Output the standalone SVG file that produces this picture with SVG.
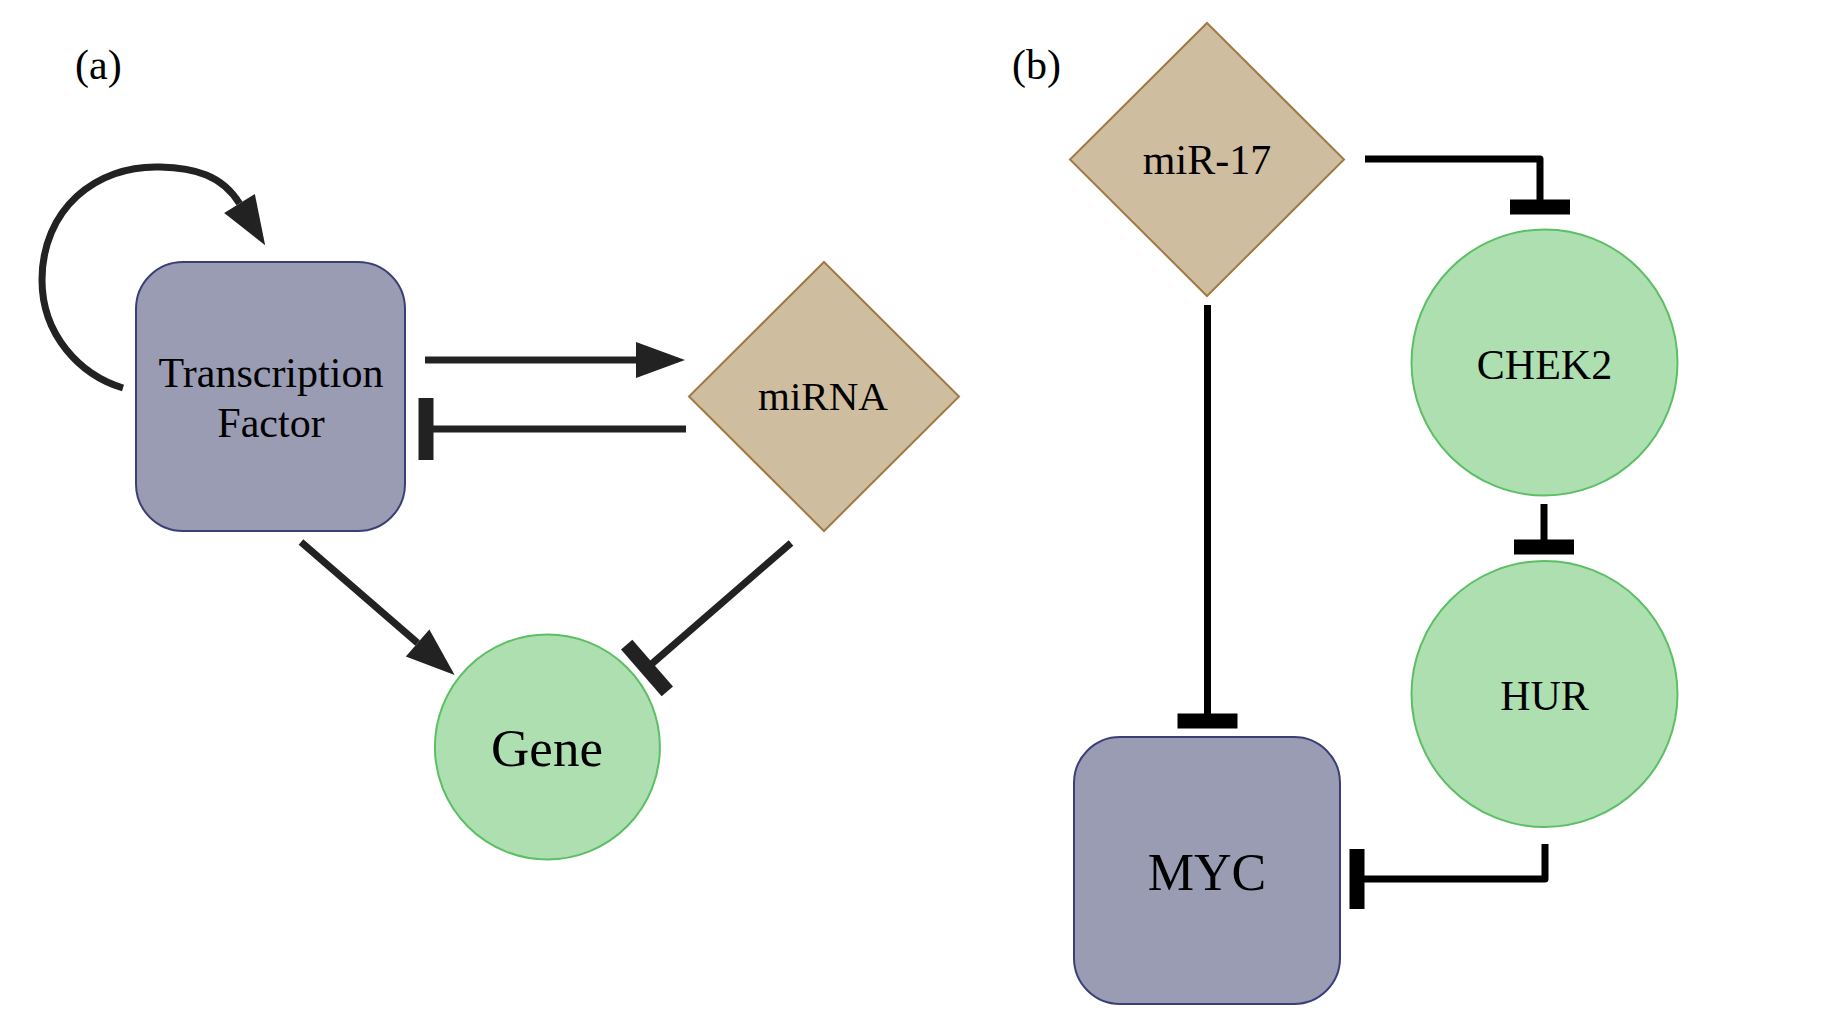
<svg xmlns="http://www.w3.org/2000/svg" width="1830" height="1029" viewBox="0 0 1830 1029">
<style>
.tf{fill:#9a9cb3;stroke:#3b3f78;stroke-width:2}
.mi{fill:#cfbd9f;stroke:#a07a45;stroke-width:2}
.ge{fill:#addfb1;stroke:#5cbf64;stroke-width:2}
.lbl{font-family:"Liberation Serif","Times New Roman",serif;fill:#000;text-anchor:middle}
.pl{font-family:"Liberation Serif","Times New Roman",serif;fill:#000;font-size:42px}
.ea{fill:none;stroke:#222;stroke-width:7}
.eb{fill:none;stroke:#000;stroke-width:7;stroke-linejoin:round}
</style>
<defs>
<marker id="arrA" markerUnits="userSpaceOnUse" markerWidth="50" markerHeight="36" refX="0" refY="18" orient="auto" overflow="visible">
<path d="M0,0 L49,18 L0,36 z" fill="#222"/>
</marker>
<marker id="barA" markerUnits="userSpaceOnUse" markerWidth="15" markerHeight="62" refX="7.5" refY="31" orient="auto" overflow="visible">
<rect x="0" y="0" width="15" height="62" fill="#222"/>
</marker>
<marker id="barB" markerUnits="userSpaceOnUse" markerWidth="15" markerHeight="60" refX="7.5" refY="30" orient="auto" overflow="visible">
<rect x="0" y="0" width="15" height="60" fill="#000"/>
</marker>
</defs>
<rect width="1830" height="1029" fill="#fff"/>
<text class="pl" x="75" y="79">(a)</text>
<text class="pl" x="1012" y="79">(b)</text>
<g id="connectors">
<path id="e-tf-self" class="ea" d="M123,388 C80,375 42,335 42,280 C42,210 95,165 160,167 C195,168 222,175 239.5,203.5" marker-end="url(#arrA)"/>
<path id="e-tf-mirna" class="ea" d="M425,360 L636,360" marker-end="url(#arrA)"/>
<path id="e-mirna-tf" class="ea" d="M686,429 L426,429" marker-end="url(#barA)"/>
<path id="e-tf-gene" class="ea" d="M301,542 L417.6,643" marker-end="url(#arrA)"/>
<path id="e-mirna-gene" class="ea" d="M791,543 L647,668" marker-end="url(#barA)"/>
<path id="e-mir17-chek2" class="eb" d="M1365,159 L1540,159 L1540,207" marker-end="url(#barB)"/>
<path id="e-chek2-hur" class="eb" d="M1544,504 L1544,547" marker-end="url(#barB)"/>
<path id="e-mir17-myc" class="eb" d="M1207.5,305 L1207.5,721" marker-end="url(#barB)"/>
<path id="e-hur-myc" class="eb" d="M1545,844 L1545,879 L1357,879" marker-end="url(#barB)"/>
</g>
<g id="node-tf">
<rect class="tf" x="136" y="262" width="269" height="269" rx="47" ry="47"/>
<text class="lbl" x="271" y="387" font-size="42">Transcription</text>
<text class="lbl" x="271" y="437" font-size="42">Factor</text>
</g>
<g id="node-mirna">
<polygon class="mi" points="824,262 959,396.5 824,531 689,396.5"/>
<text class="lbl" x="823" y="410" font-size="41">miRNA</text>
</g>
<g id="node-gene">
<circle class="ge" cx="547.4" cy="747" r="112.5"/>
<text class="lbl" x="547" y="766" font-size="53">Gene</text>
</g>
<g id="node-mir17">
<polygon class="mi" points="1207,23 1344,159.5 1207,296 1070,159.5"/>
<text class="lbl" x="1207" y="174" font-size="42">miR-17</text>
</g>
<g id="node-chek2">
<circle class="ge" cx="1544.5" cy="362.5" r="133"/>
<text class="lbl" x="1544.5" y="378.5" font-size="42">CHEK2</text>
</g>
<g id="node-hur">
<circle class="ge" cx="1544.5" cy="694" r="133"/>
<text class="lbl" x="1544.5" y="710" font-size="42">HUR</text>
</g>
<g id="node-myc">
<rect class="tf" x="1074" y="737" width="266" height="267" rx="46" ry="46"/>
<text class="lbl" x="1207" y="890" font-size="52">MYC</text>
</g>
</svg>
